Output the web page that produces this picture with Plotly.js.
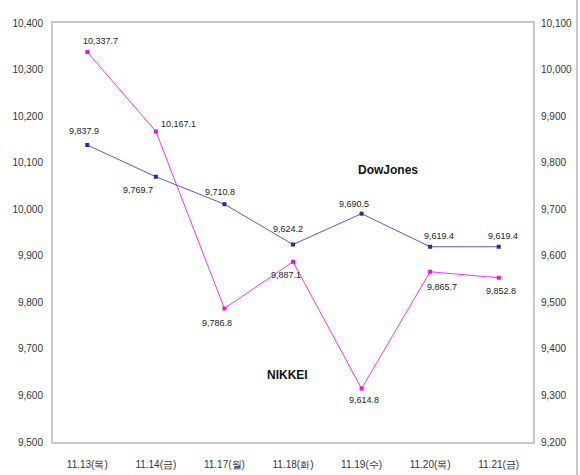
<!DOCTYPE html>
<html>
<head>
<meta charset="utf-8">
<script src="https://cdn.plot.ly/plotly-3.0.1.min.js"></script>
<style>html,body{margin:0;padding:0;background:#fff;}#chart{width:580px;height:475px;}</style>
</head>
<body>
<div id="chart"></div>
<script>
const categories = ['11.13(목)', '11.14(금)', '11.17(월)', '11.18(화)', '11.19(수)', '11.20(목)', '11.21(금)'];
const nikkei = [10337.7, 10167.1, 9786.8, 9887.1, 9614.8, 9865.7, 9852.8];
const dowJones = [9837.9, 9769.7, 9710.8, 9624.2, 9690.5, 9619.4, 9619.4];
const leftTicks = [9500, 9600, 9700, 9800, 9900, 10000, 10100, 10200, 10300, 10400];
const rightTicks = [9200, 9300, 9400, 9500, 9600, 9700, 9800, 9900, 10000, 10100];

const FONT = '"Liberation Sans Narrow", "Liberation Sans", Arial, sans-serif';
const fmt = v => v.toLocaleString('en-US', {minimumFractionDigits: 1, maximumFractionDigits: 1});
const fmtTick = v => v.toLocaleString('en-US');

// label offsets (px) – styling only
const nkOff = [[13,-11],[23,-7],[-7,15],[-7,13],[2,11],[12,15],[2,13]];
const djOff = [[-3,-14],[-18,13],[-4,-12],[-5,-16],[-8,-10],[9,-11],[4,-11]];

const annotations = [];
nikkei.forEach((v, i) => annotations.push({
  x: categories[i], y: v, xref: 'x', yref: 'y', text: fmt(v), showarrow: false,
  xanchor: 'center', yanchor: 'middle',
  xshift: nkOff[i][0], yshift: -nkOff[i][1], font: {family: FONT, size: 9, color: '#222'}
}));
dowJones.forEach((v, i) => annotations.push({
  x: categories[i], y: v, xref: 'x', yref: 'y2', text: fmt(v), showarrow: false,
  xanchor: 'center', yanchor: 'middle',
  xshift: djOff[i][0], yshift: -djOff[i][1], font: {family: FONT, size: 9, color: '#222'}
}));
annotations.push({x: 0.698, y: 0.649, xref: 'paper', yref: 'paper', text: '<b>DowJones</b>', showarrow: false,
  xanchor: 'center', yanchor: 'middle', font: {family: FONT, size: 12, color: '#111'}});
annotations.push({x: 0.488, y: 0.16, xref: 'paper', yref: 'paper', text: '<b>NIKKEI</b>', showarrow: false,
  xanchor: 'center', yanchor: 'middle', font: {family: FONT, size: 12, color: '#111'}});

const traces = [
  {x: categories, y: nikkei, type: 'scatter', mode: 'lines+markers', name: 'NIKKEI', yaxis: 'y',
   line: {color: '#ff33ff', width: 1}, marker: {color: '#ff00ff', size: 4, symbol: 'square'}},
  {x: categories, y: dowJones, type: 'scatter', mode: 'lines+markers', name: 'DowJones', yaxis: 'y2',
   line: {color: '#5a5ad0', width: 1}, marker: {color: '#2a2aa0', size: 4, symbol: 'square'}}
];

const tickFont = {family: FONT, size: 10, color: '#333'};
const layout = {
  width: 580, height: 475,
  margin: {l: 53, r: 47, t: 23, b: 33},
  paper_bgcolor: '#fff', plot_bgcolor: '#fff',
  showlegend: false,
  xaxis: {type: 'category', range: [-0.5, 6.5], showgrid: false, zeroline: false,
    showline: true, linecolor: '#c8c8c8', linewidth: 2, mirror: true, ticks: '',
    tickfont: tickFont, ticklabelstandoff: 12},
  yaxis: {range: [9500, 10400], tickvals: leftTicks, ticktext: leftTicks.map(fmtTick),
    showgrid: false, zeroline: false, showline: true, linecolor: '#c8c8c8', linewidth: 2,
    ticks: '', tickfont: tickFont, ticklabelstandoff: 6},
  yaxis2: {range: [9200, 10100], tickvals: rightTicks, ticktext: rightTicks.map(fmtTick),
    overlaying: 'y', side: 'right', showgrid: false, zeroline: false, showline: true,
    linecolor: '#c8c8c8', linewidth: 2, ticks: '', tickfont: tickFont, ticklabelstandoff: 4},
  annotations: annotations,
  shapes: [{type: 'line', xref: 'paper', yref: 'paper', x0: 1.0917, x1: 1.0917, y0: -0.08, y1: 1.06,
    line: {color: '#c8c8c8', width: 2}}]
};

Plotly.newPlot('chart', traces, layout, {staticPlot: true, displayModeBar: false});
</script>
</body>
</html>
